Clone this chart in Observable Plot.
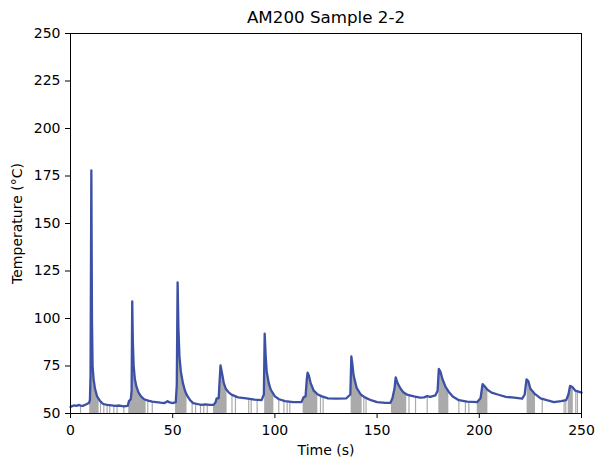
<!DOCTYPE html>
<html>
<head>
<meta charset="utf-8">
<script src="https://cdn.jsdelivr.net/npm/d3@7"></script>
<script src="https://cdn.jsdelivr.net/npm/@observablehq/plot@0.6"></script>
<style>
  html, body { margin: 0; padding: 0; background: #fff; }
  #chart { width: 595px; height: 462px; }
</style>
</head>
<body>
<div id="chart"></div>
<script>
const title = "AM200 Sample 2-2";
const xLabel = "Time (s)";
const yLabel = "Temperature (°C)";
const xTicks = [0, 50, 100, 150, 200, 250];
const yTicks = [50, 75, 100, 125, 150, 175, 200, 225, 250];

// Temperature trace (time in s, temperature in °C)
const times = [
  0, 1, 2, 3, 4, 5, 6, 7, 8, 9, 9.5, 9.8, 10.2, 10.5, 10.8, 11.3, 12, 13, 14.5, 16, 18, 20, 22, 24, 26, 28,
  28.6, 29.5, 29.9, 30.2, 30.5, 30.9, 31.5, 32.3, 33.3, 34.5, 36, 38, 40, 42, 44, 46, 47.5, 48.5, 50, 51.5,
  52.0, 52.4, 52.8, 53.3, 54, 55, 56, 57, 58.5, 60, 62, 64, 66, 68, 70, 71, 71.5, 72.5, 73.0, 73.4, 74, 75,
  76, 77.5, 79, 82, 86, 90, 93.5, 94.6, 95.0, 95.5, 96, 97, 98, 100, 102, 105, 109, 113, 114, 115, 115.6, 116,
  116.6, 117.5, 119, 121, 123, 126, 130, 135, 136.9, 137.4, 137.9, 138.5, 140, 142, 144, 147, 150, 154,
  156.5, 157.5, 158.5, 159.1, 160, 161.5, 163, 165, 168, 171, 173, 174.5, 176, 178.5, 179.6, 180.2, 181,
  182, 183.5, 185, 187, 190, 194, 199, 200.6, 201.6, 202.5, 204, 206, 209, 213, 217, 221, 222.2, 223.1,
  224, 225, 227, 230, 233, 236.5, 240, 242.5, 243.6, 244.4, 245.5, 247, 248.5, 250
];
const temps = [
  53.5, 54, 54.3, 54, 54.5, 54.2, 54, 54.5, 55, 55.5, 57, 70, 178, 100, 75, 68, 63, 59, 56.5, 55, 54.5, 54.3, 54, 54.2, 53.8, 54,
  56.5, 57.5, 62, 109, 88, 75, 68, 64, 61, 59, 57.5, 56.8, 56.3, 56, 55.7, 55.5, 56.5, 55.8, 55.5, 56,
  65, 119, 95, 80, 72, 66, 62, 59.5, 57, 55.5, 55, 54.5, 54.8, 54.5, 54.5, 56, 58, 58, 68, 75.3, 72, 66,
  63, 61, 59.8, 58.5, 58, 57.3, 57, 60, 92, 80, 72, 66, 62.5, 59, 57.5, 56.5, 56, 56, 58.5, 59, 68, 71.5,
  70, 66, 62, 60, 59, 58, 57.8, 58, 60, 80, 76, 70, 63.5, 60, 58.5, 57, 56, 55.6,
  55.6, 58, 63, 69, 66, 63, 61, 59.8, 59, 58.4, 58.5, 59.2, 58.8, 59.5, 62, 73.5, 72,
  68, 64, 61.5, 59, 57, 56.2, 56, 58, 65.5, 64.5, 62.5, 61, 60, 58.8, 58.3, 57.8, 60, 68,
  67, 63, 60.5, 58, 57, 56, 56.5, 57, 60, 64.5, 64, 62, 61.5, 61
];

// Shaded spans (dense grey fill below the trace)
const shadeStart = [9.4, 28.5, 51.4, 70.0, 95.0, 113.8, 137.3, 157.0, 180.2, 199.0, 223.4, 243.5];
const shadeEnd   = [14.0, 37.0, 57.0, 76.6, 99.5, 121.0, 142.7, 164.5, 185.1, 204.2, 227.5, 246.0];
// Isolated grey lines below the trace
const shadeLines = [4.9, 14.7, 16.3, 17.9, 19.2, 21.2, 22.8, 26.1, 37.8, 40.0, 59.5, 61.2, 63.6, 65.2, 66.9,
  79.0, 80.7, 87.2, 88.4, 91.3, 101.9, 104.4, 106.0, 107.3, 122.3, 123.6, 143.5, 144.6, 165.6, 168.8,
  174.5, 190.0, 193.2, 194.9, 230.8, 241.5, 242.3, 247.2, 248.0];

const trace = times.map((t, i) => ({t, v: temps[i]}));
const bis = d3.bisector(d => d.t).left;
function interp(t) {
  const i = bis(trace, t);
  if (i <= 0) return trace[0].v;
  if (i >= trace.length) return trace[trace.length - 1].v;
  const a = trace[i - 1], b = trace[i];
  return a.v + (b.v - a.v) * (t - a.t) / (b.t - a.t);
}
const shadeArea = [];
shadeStart.forEach((s, k) => {
  const e = shadeEnd[k];
  shadeArea.push({t: s, v: interp(s), k});
  trace.filter(d => d.t > s && d.t < e).forEach(d => shadeArea.push({t: d.t, v: d.v, k}));
  shadeArea.push({t: e, v: interp(e), k});
});
const lineRules = shadeLines.map(t => ({t, v: interp(t)}));

const grey = "#aaaaaa";
const chart = Plot.plot({
  width: 595,
  height: 462,
  marginLeft: 70,
  marginRight: 14,
  marginTop: 33,
  marginBottom: 49,
  style: {fontFamily: "DejaVu Sans", fontSize: "14px", color: "#000", background: "#fff"},
  x: {domain: [0, 250]},
  y: {domain: [50, 250]},
  marks: [
    Plot.areaY(shadeArea, {x: "t", y1: 50, y2: "v", z: "k", fill: grey, curve: "linear"}),
    Plot.ruleX(lineRules, {x: "t", y1: 50, y2: "v", stroke: grey, strokeWidth: 1.2}),
    Plot.line(trace, {x: "t", y: "v", stroke: "#3c50a5", strokeWidth: 2.3, strokeLinejoin: "round"}),
    Plot.frame({stroke: "#000", strokeWidth: 1}),
    Plot.axisX({ticks: xTicks, tickSize: 5, tickPadding: 7, fontSize: 14,
      label: xLabel, labelAnchor: "center", labelOffset: 41, labelArrow: "none"}),
    Plot.axisY({ticks: yTicks, tickSize: 5, tickPadding: 5, fontSize: 14,
      label: yLabel, labelAnchor: "center", labelOffset: 58, labelArrow: "none"}),
    Plot.text([title], {frameAnchor: "top", dy: -16, lineAnchor: "middle", fontSize: 16.7, text: d => d})
  ]
});
document.getElementById("chart").appendChild(chart);
</script>
</body>
</html>
